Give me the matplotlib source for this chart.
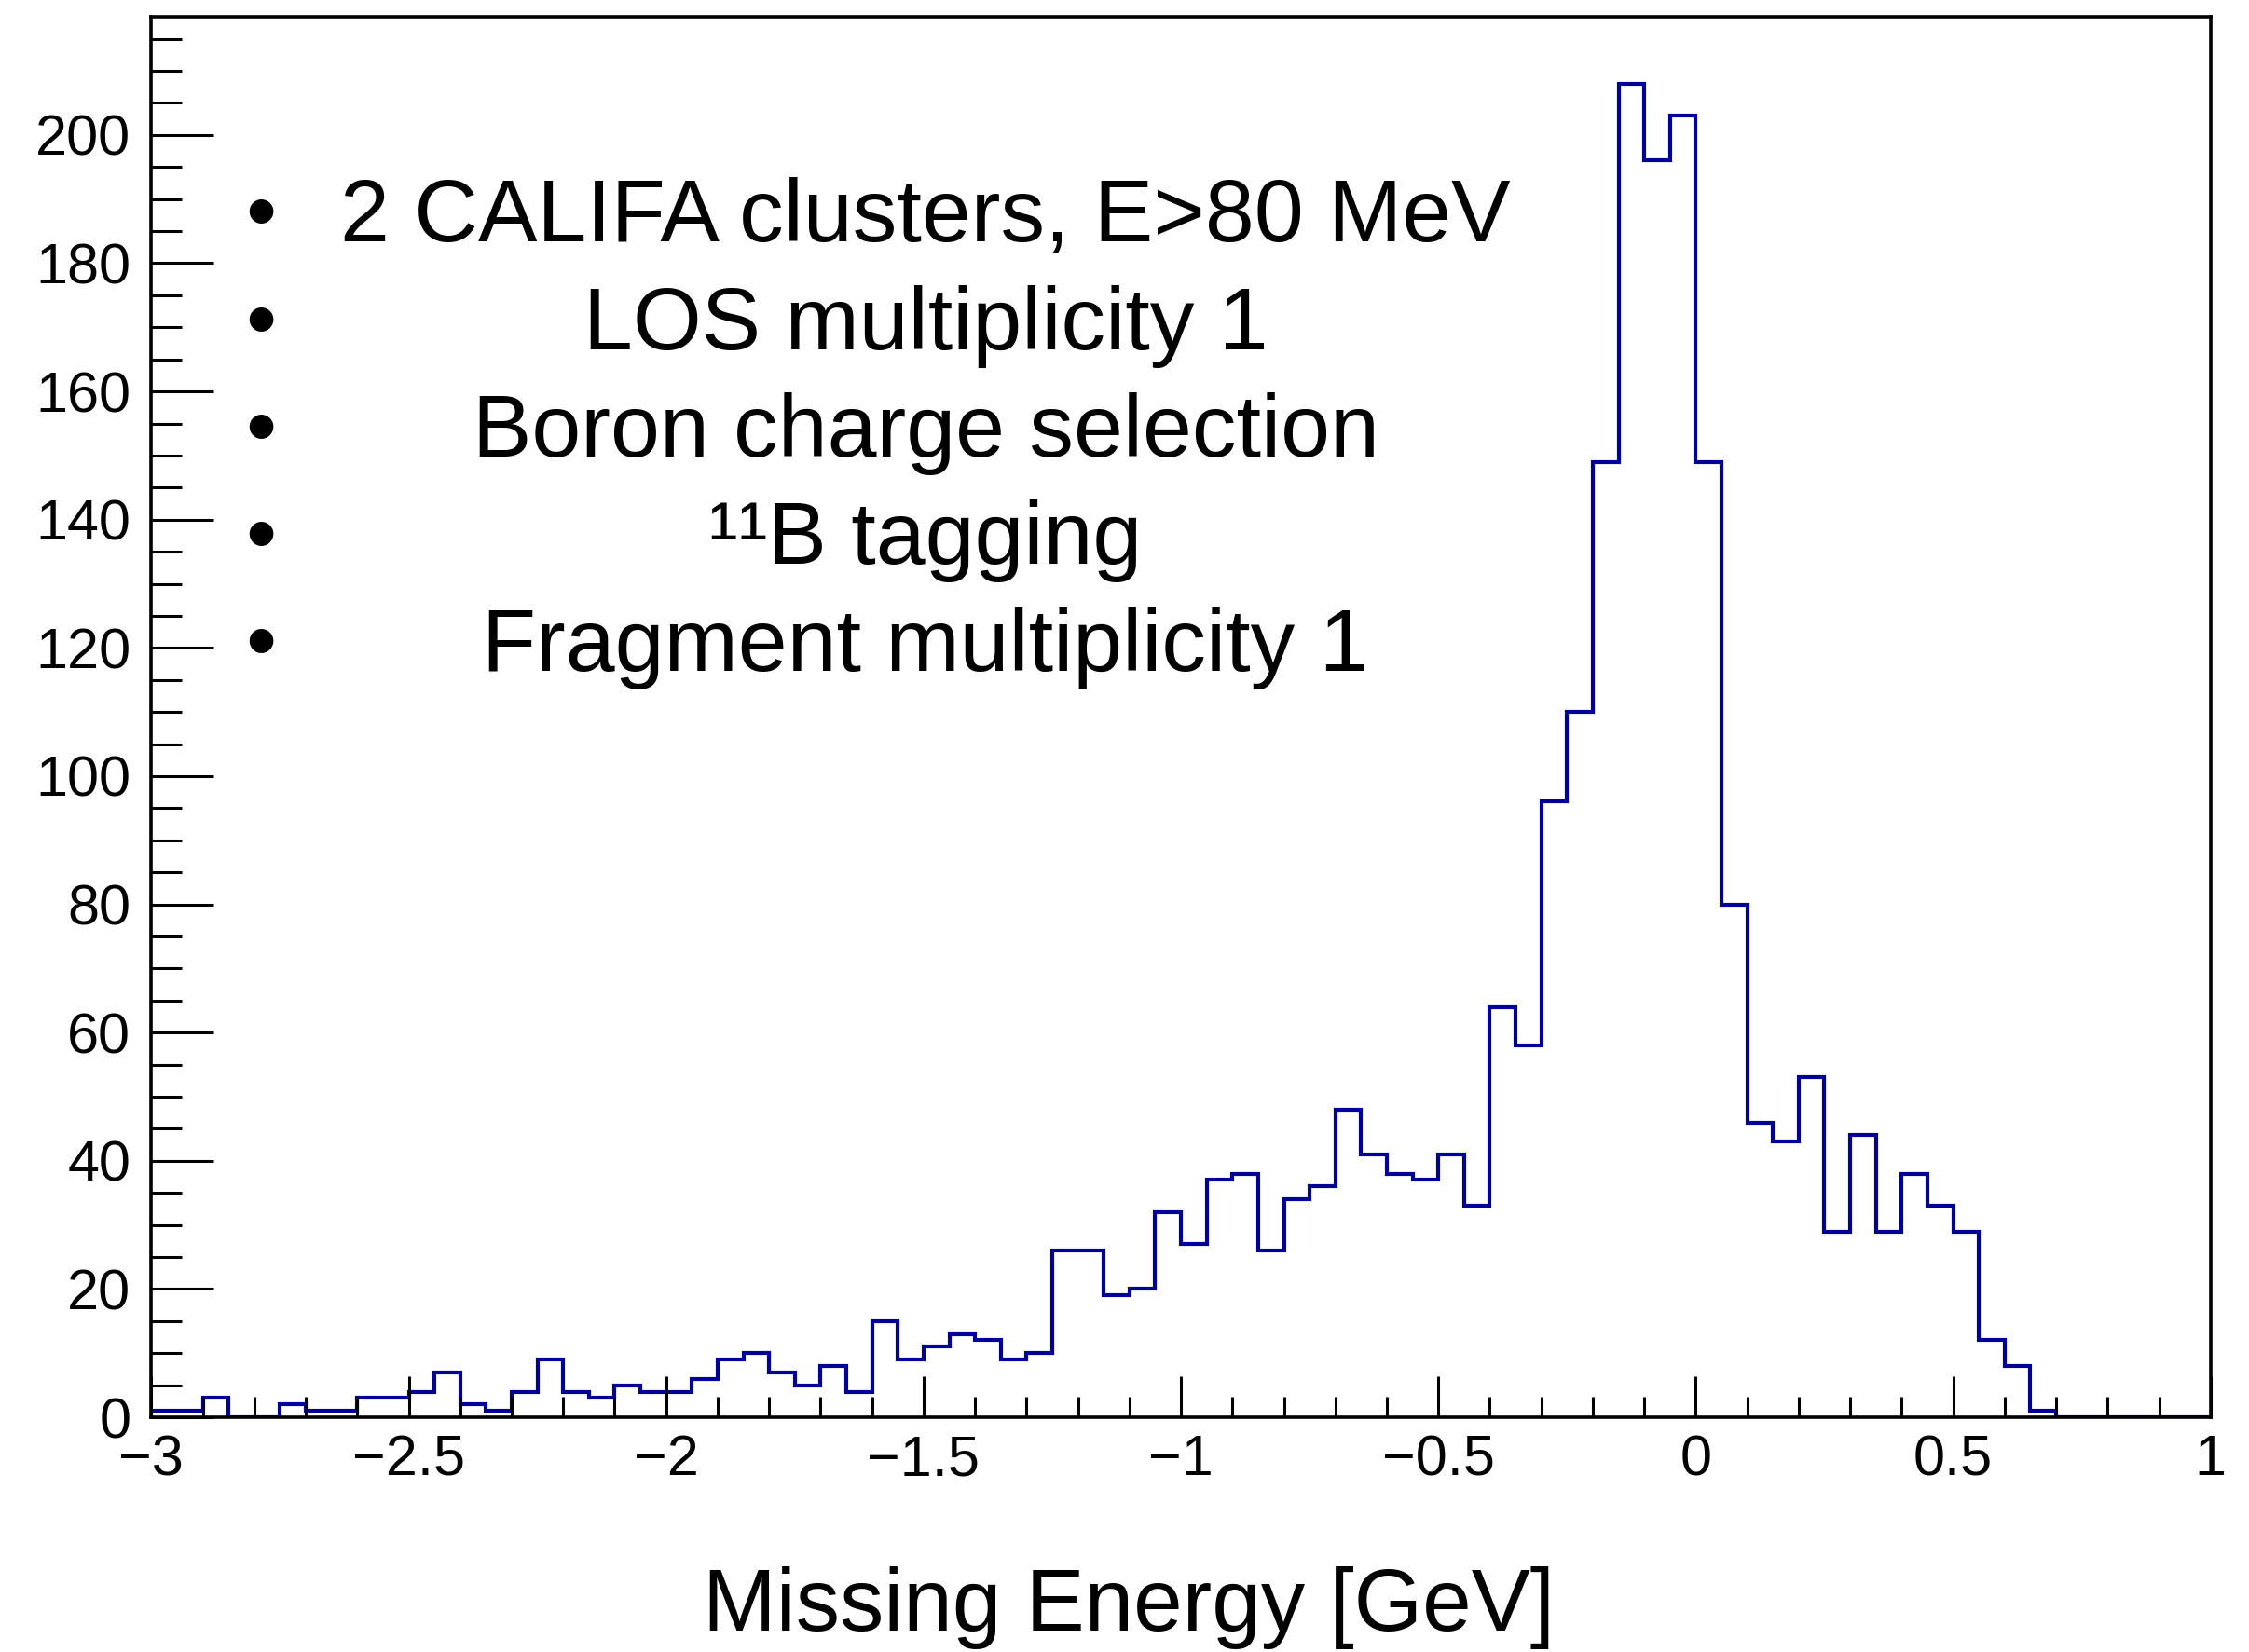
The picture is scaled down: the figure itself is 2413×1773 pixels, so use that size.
import numpy as np
import matplotlib
matplotlib.use("Agg")
import matplotlib.pyplot as plt
from matplotlib.ticker import MultipleLocator

plt.rcParams["font.family"] = ["Liberation Sans", "DejaVu Sans"]
plt.rcParams["mathtext.default"] = "regular"

# Histogram: 80 bins from -3 to 1 GeV
x_min, x_max, n_bins = -3.0, 1.0, 80
counts = [
    1, 1, 3, 0, 0, 2, 1, 1, 3, 3,
    4, 7, 2, 1, 4, 9, 4, 3, 5, 4,
    4, 6, 9, 10, 7, 5, 8, 4, 15, 9,
    11, 13, 12, 9, 10, 26, 26, 19, 20, 32,
    27, 37, 38, 26, 34, 36, 48, 41, 38, 37,
    41, 33, 64, 58, 96, 110, 149, 208, 196, 203,
    149, 80, 46, 43, 53, 29, 44, 29, 38, 33,
    29, 12, 8, 1, 0, 0, 0, 0, 0, 0,
]
x_ticks = [-3, -2.5, -2, -1.5, -1, -0.5, 0, 0.5, 1]
x_ticklabels = ["\u22123", "\u22122.5", "\u22122", "\u22121.5", "\u22121",
                "\u22120.5", "0", "0.5", "1"]
y_ticks = [0, 20, 40, 60, 80, 100, 120, 140, 160, 180, 200]
cuts = [
    "2 CALIFA clusters, E>80 MeV",
    "LOS multiplicity 1",
    "Boron charge selection",
    "\u00b9\u00b9B tagging",
    "Fragment multiplicity 1",
]

edges = np.linspace(x_min, x_max, n_bins + 1)

fig = plt.figure(figsize=(24.13, 17.73), dpi=100)
ax = fig.add_axes([0.0673, 0.1421, 0.9829 - 0.0673, 0.9897 - 0.1421])

ax.stairs(counts, edges, color="#000099", linewidth=3.0)

ax.set_xlim(x_min, x_max)
ax.set_ylim(0, max(counts) * 1.05)

ax.set_xticks(x_ticks)
ax.set_xticklabels(x_ticklabels)
ax.set_yticks(y_ticks)
ax.xaxis.set_minor_locator(MultipleLocator(0.1))
ax.yaxis.set_minor_locator(MultipleLocator(5))
ax.tick_params(which="both", direction="in", top=False, right=False,
               width=2.2, labelsize=44, color="black")
ax.tick_params(axis="x", which="major", length=32, pad=13)
ax.tick_params(axis="x", which="minor", length=16)
ax.tick_params(axis="y", which="major", length=48, pad=16)
ax.tick_params(axis="y", which="minor", length=24)
for s in ax.spines.values():
    s.set_linewidth(2.6)

fig.text(0.502, 0.013, "Missing Energy [GeV]", fontsize=68,
         ha="center", va="baseline")

# Selection cuts
line_y = [0.868, 0.8025, 0.7375, 0.6725, 0.6075]
for y, txt in zip(line_y, cuts):
    fig.text(0.116, y, "\u2022", fontsize=68, ha="center", va="center")
    fig.text(0.4115, y, txt, fontsize=68.5, ha="center", va="center")

fig.savefig("out.png", dpi=100)
